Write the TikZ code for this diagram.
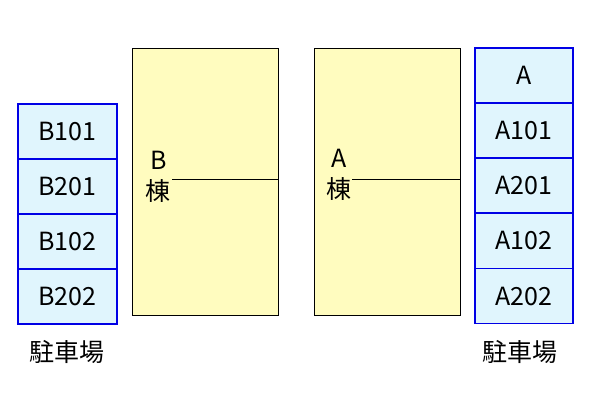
\documentclass[tikz,border=0pt]{standalone}
\usepackage{fontspec}
\setmainfont{Noto Sans CJK JP}
\begin{document}
\begin{tikzpicture}[x=1pt,y=-1pt,
 park/.style={draw=blue!90!black,fill=cyan!12,line width=1.6pt,font=\fontsize{25}{26}\selectfont},
 bld/.style={draw=black,fill=yellow!25,line width=1pt},
 lbl/.style={font=\fontsize{25}{26}\selectfont,inner sep=0pt}]
\useasboundingbox (0,0) rectangle (600,400);
% B parking
\foreach \t [count=\i from 0] in {B101,B201,B102,B202}{
 \node[park,minimum width=99pt,minimum height=55pt,anchor=north west] (b\i) at (17,103+55*\i) {\t};}
% A parking
\foreach \t [count=\i from 0] in {A,A101,A201,A102,A202}{
 \node[park,minimum width=98pt,minimum height=55pt,anchor=north west] (a\i) at (474,47+55.2*\i) {\t};}
% buildings
\node[bld,minimum width=146pt,minimum height=267pt,anchor=north west] (bb) at (132,48) {};
\node[bld,minimum width=146pt,minimum height=267pt,anchor=north west] (ab) at (314,48) {};
\coordinate (bl) at (172,179); \coordinate (al) at (352,179);
\draw[line width=1pt] (bl) -- (bl -| bb.east);
\draw[line width=1pt] (al) -- (al -| ab.east);
\node[lbl] (bt1) at (159,160) {B};
\node[lbl] (bt2) at (158,191) {棟};
\node[lbl] (at1) at (339,158) {A};
\node[lbl] (at2) at (339,189) {棟};
\node[lbl] (pb) at (67,352) {駐車場};
\node[lbl] (pa) at (520,352) {駐車場};
\end{tikzpicture}
\end{document}
